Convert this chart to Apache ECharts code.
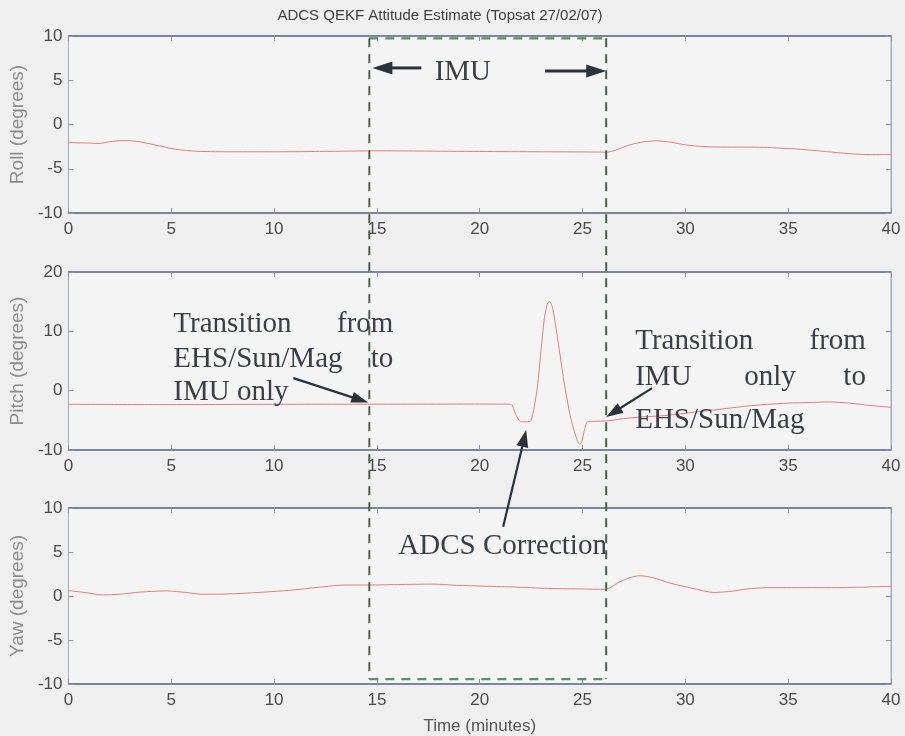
<!DOCTYPE html>
<html><head><meta charset="utf-8">
<script src="https://cdn.jsdelivr.net/npm/echarts/dist/echarts.min.js"></script>
<style>html,body{margin:0;padding:0;background:#efefef}#c{width:905px;height:736px}</style>
</head><body><div id="c"></div>
<script>
// ---- data (time in minutes, angles in degrees) ----
const rollT = [0,1,1.5,2,2.6,3.3,4.2,5.2,6.3,8,10,12,14,15,17,20,23,25,26.2,26.6,27.3,28,28.6,29.3,30,30.9,32,33.1,34.5,35.6,36.8,38,39,40];
const rollV = [-2.05,-2.1,-2.15,-1.95,-1.82,-1.9,-2.3,-2.8,-3.03,-3.08,-3.08,-3.05,-3.0,-2.97,-3.0,-3.05,-3.08,-3.1,-3.12,-2.9,-2.3,-1.95,-1.85,-2.0,-2.3,-2.5,-2.55,-2.55,-2.65,-2.8,-3.05,-3.3,-3.4,-3.4];
const pitchT = [0,5,10,15,20,21.5,21.75,21.97,22.2,22.45,22.6,22.8,23.0,23.15,23.3,23.4,23.55,23.8,24.1,24.4,24.7,24.85,24.95,25.1,25.25,25.6,26.2,27,28,29,30,31,32,33,34,35,36,37,38,39,40];
const pitchV = [-2.3,-2.35,-2.3,-2.28,-2.25,-2.28,-4.0,-5.2,-5.25,-5.2,-3.6,0.5,7.5,12.3,14.8,15.0,13.8,8.5,1.5,-4.2,-8.0,-9.0,-8.8,-6.5,-5.2,-5.15,-5.1,-4.7,-4.4,-4.2,-3.8,-3.4,-3.0,-2.6,-2.3,-2.1,-2.0,-1.9,-2.1,-2.5,-2.8];
const yawT = [0,0.8,1.7,2.5,3.5,4.8,5.7,6.5,8,9.9,11,12.4,13.5,14.6,16,17.7,19,20.5,21.9,23.5,25,26,26.3,26.8,27.4,27.8,28.4,29.2,30.3,31.4,32.3,33,34,35.5,37.3,38.5,40];
const yawV = [0.6,0.4,0.12,0.2,0.45,0.58,0.4,0.2,0.25,0.5,0.7,1.05,1.25,1.25,1.3,1.35,1.2,1.1,1.0,0.85,0.8,0.75,0.9,1.6,2.15,2.3,2.1,1.5,0.9,0.4,0.55,0.8,0.95,0.95,0.95,1.0,1.1];

const xTicks = [0,5,10,15,20,25,30,35,40];
const panels = [
  {name:'Roll (degrees)',  min:-10, max:10, interval:5,  t:rollT,  v:rollV},
  {name:'Pitch (degrees)', min:-10, max:20, interval:10, t:pitchT, v:pitchV},
  {name:'Yaw (degrees)',   min:-10, max:10, interval:5,  t:yawT,   v:yawV}
];
const titleText = 'ADCS QEKF Attitude Estimate (Topsat 27/02/07)';
const xName = 'Time (minutes)';

// annotations, in data coordinates of the panel they sit in
const boxX = [14.63, 26.15];
const boxTop = {p:0, y:9.74}, boxBottom = {p:2, y:-9.44};
const arrows = [
  {from:{p:0,x:17.16,y:6.39}, to:{p:0,x:14.78,y:6.39}, w:3, hl:20, hw:13},
  {from:{p:0,x:23.18,y:6.05}, to:{p:0,x:26.15,y:6.05}, w:3, hl:20, hw:13},
  {from:{p:1,x:10.94,y:2.12}, to:{p:1,x:14.58,y:-2.0}, w:2.2, hl:17, hw:11},
  {from:{p:1,x:28.38,y:0.44}, to:{p:1,x:26.15,y:-4.45}, w:2.2, hl:17, hw:11},
  {from:{p:2,x:21.14,y:7.88}, to:{p:1,x:22.26,y:-6.64}, w:2.2, hl:17, hw:12}
];
const notes = [
  {p:0, x:19.18, y:5.89, text:'IMU', align:'center'},
  {p:1, x:5.1,  y:11.23, text:'Transition', align:'left'},
  {p:1, x:15.8, y:11.23, text:'from', align:'right'},
  {p:1, x:5.1,  y:5.33, text:'EHS/Sun/Mag', align:'left'},
  {p:1, x:15.8, y:5.33, text:'to', align:'right'},
  {p:1, x:5.1,  y:-0.25, text:'IMU only', align:'left'},
  {p:1, x:27.56, y:8.36, text:'Transition', align:'left'},
  {p:1, x:38.78, y:8.36, text:'from', align:'right'},
  {p:1, x:27.56, y:2.21, text:'IMU', align:'left'},
  {p:1, x:34.12, y:2.21, text:'only', align:'center'},
  {p:1, x:38.78, y:2.21, text:'to', align:'right'},
  {p:1, x:27.56, y:-4.96, text:'EHS/Sun/Mag', align:'left'},
  {p:2, x:16.04, y:5.67, text:'ADCS Correction', align:'left'}
];

// ---- layout ----
const gridPos = [{top:36,height:177},{top:272,height:178},{top:508,height:177}];
const sans = '"Liberation Sans", Arial, sans-serif';
const serif = '"Liberation Serif", "Times New Roman", serif';
const frameDark = '#5d6d86', frameLight = '#a3abbb', tickCol = '#8a93a5';

const grid = [], xAxis = [], yAxis = [], series = [];
panels.forEach((pn, i) => {
  grid.push({left:68, right:14, top:gridPos[i].top, height:gridPos[i].height,
    show:true, backgroundColor:'#f4f4f4', borderColor:frameLight, borderWidth:1});
  xAxis.push({type:'value', gridIndex:i, min:0, max:40, interval:5, position:'bottom',
    axisLine:{show:true, onZero:false, lineStyle:{color:frameDark, width:1.5}},
    axisTick:{show:true, inside:true, length:5, lineStyle:{color:tickCol}},
    axisLabel:{show:true, margin:8, fontSize:17, fontFamily:sans, color:'#4a4a4a',
      formatter: v => xTicks.includes(v) ? String(v) : ''},
    splitLine:{show:false},
    name: i===2 ? xName : '', nameLocation:'middle', nameGap:34,
    nameTextStyle:{fontSize:17, fontFamily:sans, color:'#555'}});
  xAxis.push({type:'value', gridIndex:i, min:0, max:40, interval:5, position:'top',
    axisLine:{show:true, onZero:false, lineStyle:{color:frameDark, width:1.5}},
    axisTick:{show:true, inside:true, length:5, lineStyle:{color:tickCol}},
    axisLabel:{show:false}, splitLine:{show:false}});
  yAxis.push({type:'value', gridIndex:i, min:pn.min, max:pn.max, interval:pn.interval, position:'left',
    axisLine:{show:true, onZero:false, lineStyle:{color:frameLight, width:1}},
    axisTick:{show:true, inside:true, length:5, lineStyle:{color:tickCol}},
    axisLabel:{show:true, margin:6, fontSize:17, fontFamily:sans, color:'#4a4a4a'},
    splitLine:{show:false},
    name:pn.name, nameLocation:'middle', nameGap:39, nameRotate:90,
    nameTextStyle:{fontSize:19, fontFamily:sans, color:'#8c8c8c'}});
  yAxis.push({type:'value', gridIndex:i, min:pn.min, max:pn.max, interval:pn.interval, position:'right',
    axisLine:{show:true, onZero:false, lineStyle:{color:frameLight, width:1}},
    axisTick:{show:true, inside:true, length:5, lineStyle:{color:tickCol}},
    axisLabel:{show:false}, splitLine:{show:false}});
  series.push({type:'line', xAxisIndex:2*i, yAxisIndex:2*i, showSymbol:false, smooth:0.25,
    lineStyle:{color:'#e47d7d', width:1}, silent:true, animation:false,
    data: pn.t.map((t, k) => [t, pn.v[k]])});
});

const chart = echarts.init(document.getElementById('c'), null, {renderer:'canvas'});
chart.setOption({
  backgroundColor:'#efefef', animation:false,
  title:{text:titleText, left:435, top:3, textAlign:'center',
    textStyle:{fontSize:15, fontWeight:'normal', fontFamily:sans, color:'#404040'}},
  grid, xAxis, yAxis, series
});

// ---- annotation overlay using the library's own coordinate conversion ----
const px = (p, x, y) => chart.convertToPixel({seriesIndex:p}, [x, y]);
const g = [];
const dash = [9, 7];
const tl = px(boxTop.p, boxX[0], boxTop.y), tr = px(boxTop.p, boxX[1], boxTop.y);
const bl = px(boxBottom.p, boxX[0], boxBottom.y), br = px(boxBottom.p, boxX[1], boxBottom.y);
const lineEl = (a, b, color, w, d) => ({type:'line', silent:true, z:50,
  shape:{x1:a[0], y1:a[1], x2:b[0], y2:b[1]}, style:{stroke:color, lineWidth:w, lineDash:d}});
g.push(lineEl(tl, tr, '#5f8f5f', 2.2, dash));
g.push(lineEl(bl, br, '#5f8f5f', 2.2, dash));
g.push(lineEl(tl, bl, '#456545', 2, dash));
g.push(lineEl(tr, br, '#456545', 2, dash));

arrows.forEach(a => {
  const s = px(a.from.p, a.from.x, a.from.y), e = px(a.to.p, a.to.x, a.to.y);
  const dx = e[0]-s[0], dy = e[1]-s[1], L = Math.hypot(dx, dy);
  const ux = dx/L, uy = dy/L, nx = -uy, ny = ux;
  const bx = e[0]-ux*a.hl, by = e[1]-uy*a.hl;
  g.push(lineEl(s, [bx+ux*2, by+uy*2], '#2b323c', a.w, null));
  g.push({type:'polygon', silent:true, z:51,
    shape:{points:[[e[0],e[1]],[bx+nx*a.hw/2, by+ny*a.hw/2],[bx-nx*a.hw/2, by-ny*a.hw/2]]},
    style:{fill:'#2b323c'}});
});

notes.forEach(n => {
  const q = px(n.p, n.x, n.y);
  g.push({type:'text', silent:true, z:52, x:q[0], y:q[1],
    style:{text:n.text, fontSize:29, fontFamily:serif, fill:'#3a3f46',
      align:n.align, verticalAlign:'middle'}});
});

chart.setOption({graphic:{elements:g}});
</script>
</body></html>
